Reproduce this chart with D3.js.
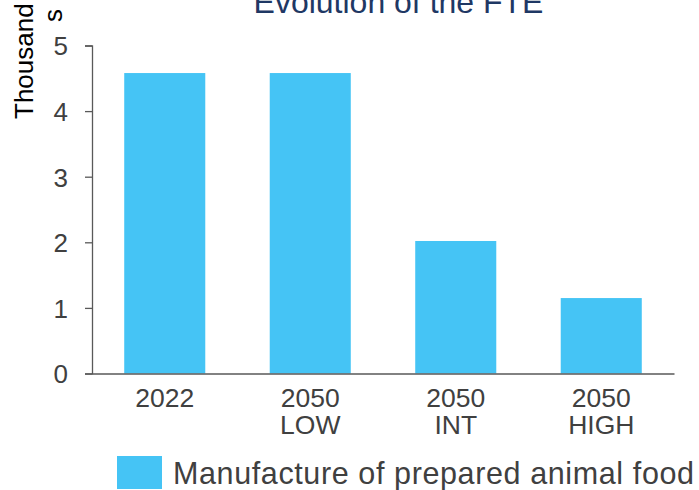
<!DOCTYPE html>
<html>
<head>
<meta charset="utf-8">
<script src="https://cdn.jsdelivr.net/npm/d3@7"></script>
<style>
  html, body { margin: 0; padding: 0; background: #fff; }
  svg { display: block; font-family: "Liberation Sans", Arial, sans-serif; }
</style>
</head>
<body>
<svg id="chart" width="699" height="490"></svg>
<script>
// Full-time equivalent employment, in thousands
const categories = [["2022"], ["2050", "LOW"], ["2050", "INT"], ["2050", "HIGH"]];
const seriesName = "Manufacture of prepared animal food";
const values = [4.58, 4.58, 2.02, 1.15];
const yTicks = [0, 1, 2, 3, 4, 5];
const title = "Evolution of the FTE";

const svg = d3.select("#chart");
const margin = { left: 92, right: 25, top: 45.5, bottom: 116.5 };
const W = 699, H = 490;
const FONT = "Liberation Sans, Arial, sans-serif";

const x = d3.scaleBand()
  .domain(categories.map((d, i) => i))
  .range([margin.left, W - margin.right])
  .paddingInner(0.443)
  .paddingOuter(0.2215);

const y = d3.scaleLinear()
  .domain([0, 5])
  .range([H - margin.bottom, margin.top]);

const barColor = "#45C4F5";
const textColor = "#404040";
const axisColor = "#595959";

// Title (runs off the top edge)
svg.append("text")
  .attr("x", 398.5).attr("y", 12.5)
  .attr("text-anchor", "middle")
  .attr("font-size", 32)
  .attr("fill", "#1F3864")
  .text(title);

// Bars
svg.append("g").selectAll("rect")
  .data(values)
  .join("rect")
  .attr("x", (d, i) => x(i))
  .attr("width", x.bandwidth())
  .attr("y", d => y(d))
  .attr("height", d => y(0) - y(d))
  .attr("fill", barColor);

// Y axis
const yAxis = svg.append("g")
  .attr("transform", `translate(${margin.left},0)`)
  .call(d3.axisLeft(y).tickValues(yTicks).tickFormat(d3.format("d")).tickSize(7).tickPadding(17));
yAxis.attr("font-family", FONT).attr("font-size", 26);
yAxis.select(".domain").attr("stroke", axisColor).attr("stroke-width", 1.3);
yAxis.selectAll(".tick line").attr("stroke", axisColor).attr("stroke-width", 1.3);
yAxis.selectAll(".tick text")
  .attr("fill", textColor)
  .attr("dy", "0.36em");

// X axis baseline
const xAxis = svg.append("g")
  .attr("transform", `translate(0,${y(0)})`)
  .call(d3.axisBottom(x).tickSize(0).tickFormat(""));
xAxis.select(".domain").attr("stroke", axisColor).attr("stroke-width", 1.3);

// Two-line category labels
categories.forEach((lines, i) => {
  const t = svg.append("text")
    .attr("text-anchor", "middle")
    .attr("font-size", 26.5)
    .attr("fill", textColor);
  lines.forEach((line, k) => {
    t.append("tspan")
      .attr("x", x(i) + x.bandwidth() / 2)
      .attr("y", 406.7 + k * 27.6)
      .text(line);
  });
});

// Y axis unit label, wrapped
svg.append("text")
  .attr("transform", "translate(33,119) rotate(-90)")
  .attr("font-size", 26)
  .attr("fill", "#000")
  .text("Thousand");
svg.append("text")
  .attr("transform", "translate(62,22) rotate(-90)")
  .attr("font-size", 26)
  .attr("fill", "#000")
  .text("s");

// Legend
svg.append("rect")
  .attr("x", 117).attr("y", 456)
  .attr("width", 45).attr("height", 33)
  .attr("fill", barColor);
svg.append("text")
  .attr("x", 173).attr("y", 484.3)
  .attr("font-size", 30.5)
  .attr("textLength", 521)
  .attr("lengthAdjust", "spacing")
  .attr("fill", textColor)
  .text(seriesName);
</script>
</body>
</html>
